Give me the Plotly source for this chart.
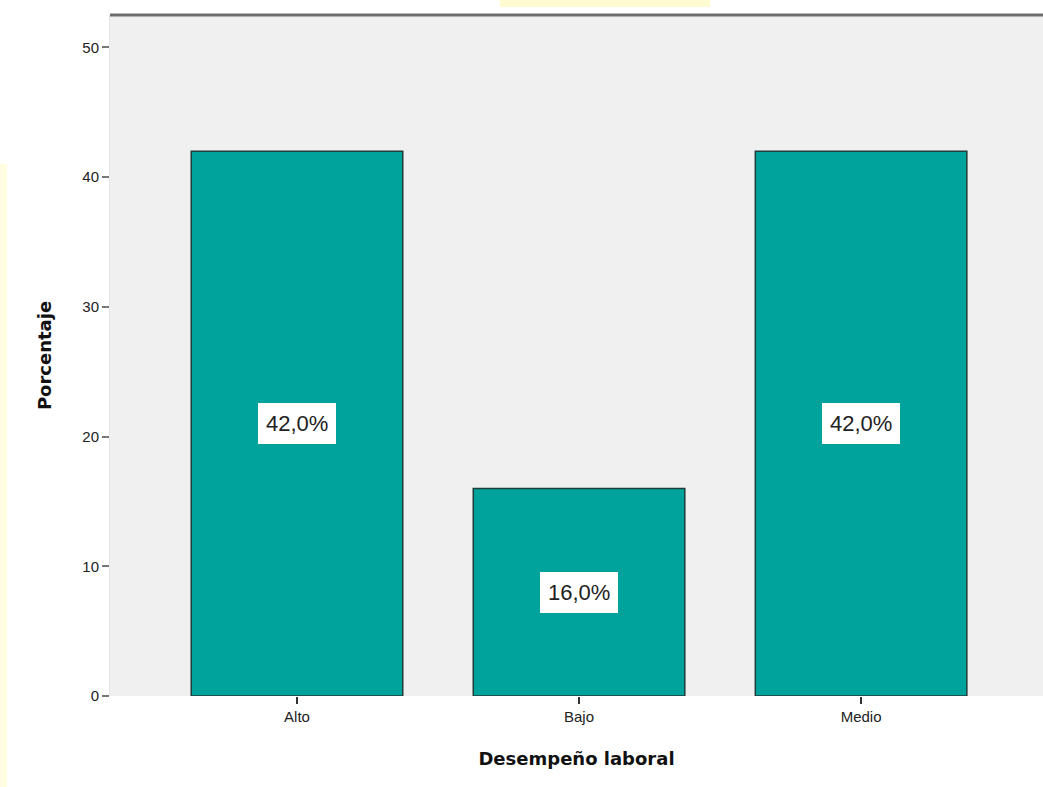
import plotly.graph_objects as go

categories = ["Alto", "Bajo", "Medio"]
percentages = [42.0, 16.0, 42.0]
y_ticks = [0, 10, 20, 30, 40, 50]
x_title = "Desempeño laboral"
y_title = "Porcentaje"

labels = [f"{v:.1f}%".replace(".", ",") for v in percentages]

fig = go.Figure()
fig.add_trace(go.Bar(
    x=list(range(len(categories))),
    y=percentages,
    width=0.75,
    marker=dict(color="#00a39b", line=dict(color="#1e3d3b", width=1.5)),
    hoverinfo="skip",
))

for i, (v, t) in enumerate(zip(percentages, labels)):
    fig.add_annotation(
        x=i, y=v / 2, text=t, showarrow=False,
        font=dict(family="Liberation Sans, Arial, sans-serif", size=22, color="#222222"),
        bgcolor="white", borderpad=8, borderwidth=0,
    )

W, H = 1043, 787
ml, mr, mt, mb = 110, 0, 15, 91
pw = W - ml - mr
ph = H - mt - mb

shapes = [
    # top frame line
    dict(type="line", xref="paper", yref="paper", x0=0, x1=1, y0=1, y1=1,
         line=dict(color="#6e6e6e", width=3), layer="above"),
    # faint yellow strips from the scanned page
    dict(type="rect", xref="paper", yref="paper",
         x0=-ml / pw, x1=(7 - ml) / pw, y0=-mb / ph, y1=(H - mt - 240) / ph,
         fillcolor="#fffce0", line=dict(width=0), layer="below"),
    dict(type="rect", xref="paper", yref="paper",
         x0=(500 - ml) / pw, x1=(710 - ml) / pw, y0=1 + 8 / ph, y1=1 + mt / ph,
         fillcolor="#fffbd0", line=dict(width=0), layer="below"),
]

fig.update_layout(
    width=W, height=H,
    margin=dict(l=ml, r=mr, t=mt, b=mb),
    paper_bgcolor="white",
    plot_bgcolor="#f0f0f0",
    showlegend=False,
    bargap=0.25,
    shapes=shapes,
    font=dict(family="Liberation Sans, Arial, sans-serif", color="#222222"),
    xaxis=dict(
        range=[-0.663, 2.645],
        tickvals=list(range(len(categories))),
        ticktext=categories,
        ticks="outside", ticklen=7, tickcolor="#333333", tickwidth=1.5,
        tickfont=dict(size=15, color="#222222"),
        showgrid=False, zeroline=False, showline=False,
        title=dict(text=x_title, font=dict(size=18, color="#111111",
                   family="DejaVu Sans, sans-serif", weight="bold"), standoff=28),
    ),
    yaxis=dict(
        range=[0, 52.5],
        tickvals=y_ticks,
        ticks="outside", ticklen=7, tickcolor="#777777", tickwidth=1.5,
        tickfont=dict(size=15, color="#222222"),
        showgrid=False, zeroline=False, showline=True, linecolor="#e4e4e4", linewidth=1,
        title=dict(text=y_title, font=dict(size=18, color="#111111",
                   family="DejaVu Sans, sans-serif", weight="bold"), standoff=26),
    ),
)

fig.write_html("out.html")
